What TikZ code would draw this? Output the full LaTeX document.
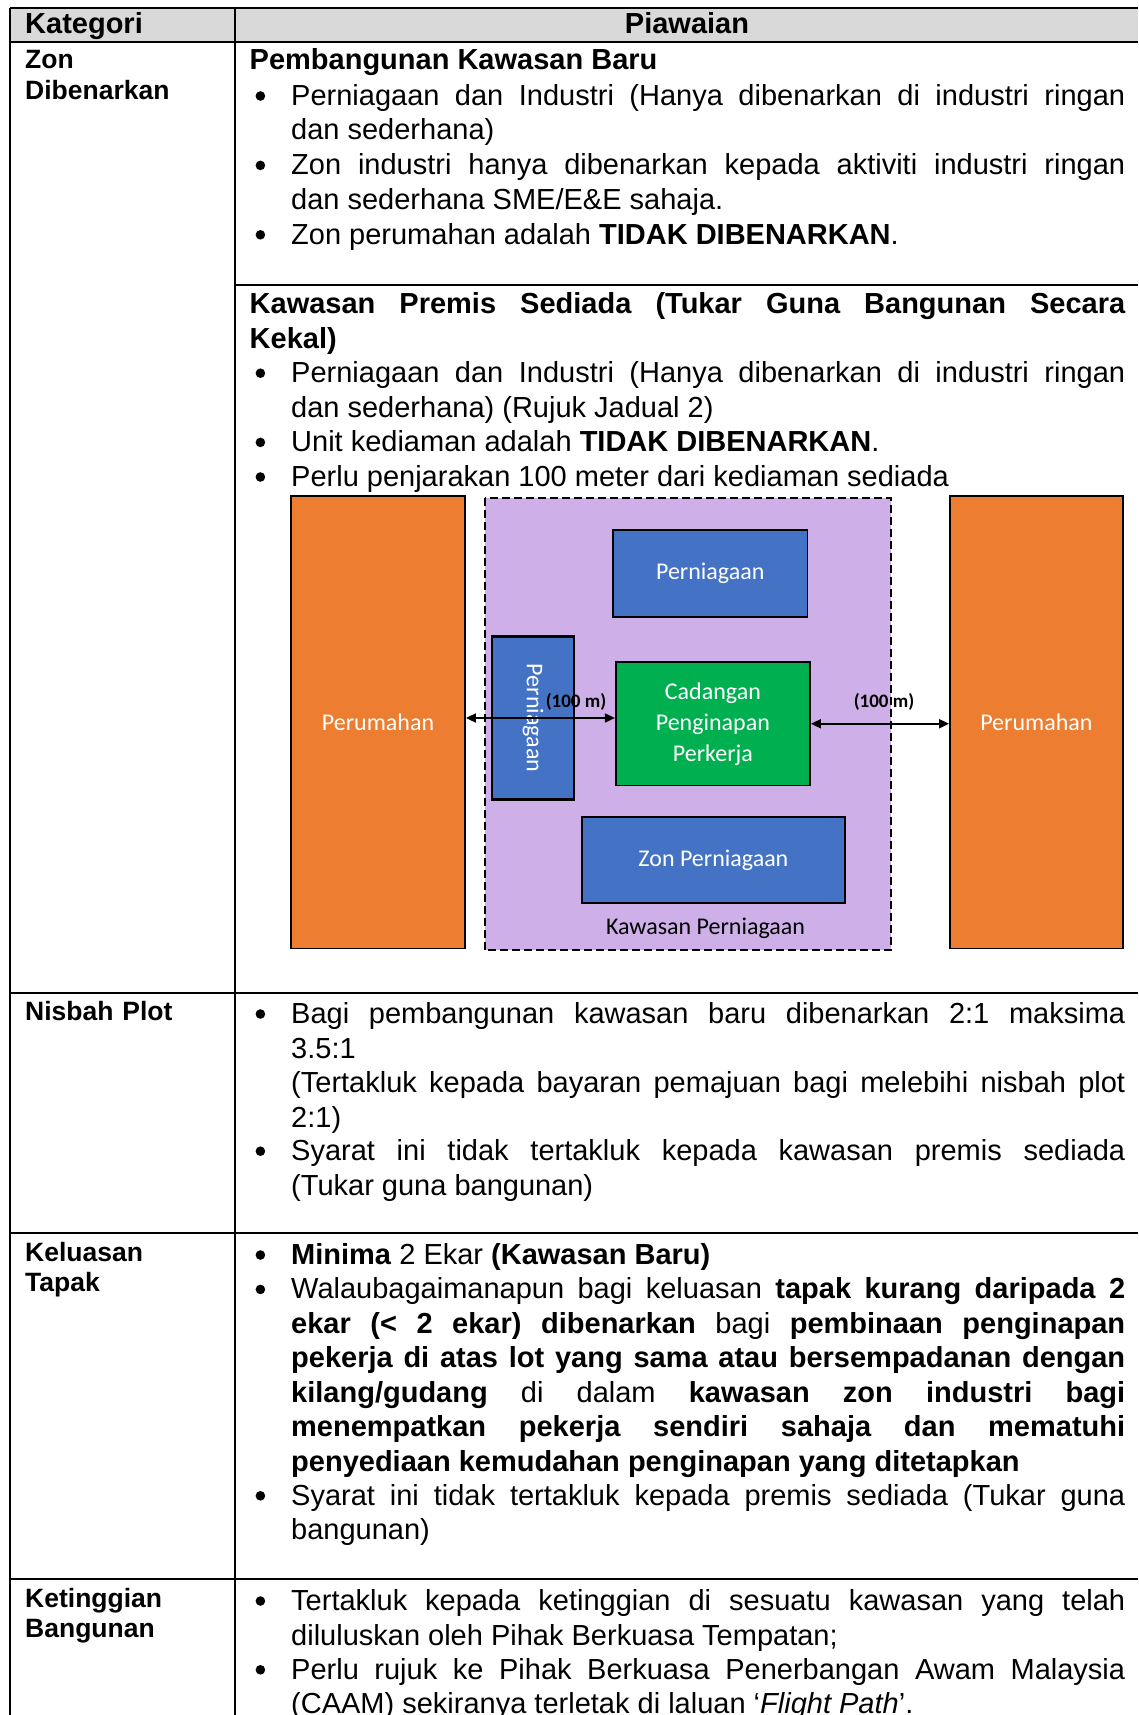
\documentclass[tikz,border=0pt]{standalone}
\usepackage{fontspec}
\setmainfont{Liberation Sans}
\newfontfamily\calfont{Carlito}
\usetikzlibrary{arrows.meta}
\definecolor{orng}{HTML}{ED7D31}
\definecolor{blu}{HTML}{4472C4}
\definecolor{grn}{HTML}{00B050}
\definecolor{kawfill}{HTML}{CFAFE7}
\definecolor{hdrgray}{HTML}{D9D9D9}
\tolerance=10000
\hbadness=10000
\hfuzz=3pt
\hyphenpenalty=10000
\exhyphenpenalty=10000
\begin{document}
\begin{tikzpicture}[x=1pt,y=-1pt,
  grid/.style={line width=1.8pt, black},
  hdr/.style={line width=2.2pt, black},
  cathead/.style={anchor=base west, inner sep=0, font=\bfseries\fontsize{26.5}{30.6}\selectfont, text width=200pt, align=left},
  toptitle/.style={inner sep=0, font=\bfseries\fontsize{29}{34.5}\selectfont},
  para/.style={anchor=base west, inner sep=0, text width=834pt, align=justify, font=\fontsize{29}{34.5}\selectfont},
  hpara/.style={anchor=base west, inner sep=0, text width=875.5pt, align=justify, font=\bfseries\fontsize{29}{34.5}\selectfont},
  zone/.style={draw=black, line width=1.8pt, inner sep=0, font=\calfont\fontsize{24}{31}\selectfont, text=white, align=center},
  kawb/.style={draw=black, line width=2.2pt, dash pattern=on 8pt off 4pt},
  dist/.style={font=\calfont\bfseries\fontsize{19}{22}\selectfont, inner sep=0},
  dimarrow/.style={{Triangle[length=10pt,width=9pt]}-{Triangle[length=10pt,width=9pt]}, line width=1.8pt}
]
\useasboundingbox (0,0) rectangle (1138,1715);
\fill[white] (0,0) rectangle (1138,1715);

% header
\fill[hdrgray] (10,8) rectangle (1138,42);
\node[toptitle, anchor=base west] (kat) at (25,34) {Kategori};
\node[toptitle, anchor=base] (piaw) at (687,34) {Piawaian};

% grid
\draw[hdr] (10,8) -- (1138,8);
\draw[hdr] (10,42) -- (1138,42);
\draw[grid] (10,8) -- (10,1715);
\draw[grid] (235,8) -- (235,1715);
\draw[grid] (235,285) -- (1138,285);
\draw[grid] (10,993) -- (1138,993);
\draw[grid] (10,1233) -- (1138,1233);
\draw[grid] (10,1579) -- (1138,1579);

% left column
\node[cathead] (c1) at (25,68.5) {Zon\\Dibenarkan};
\node[cathead] (c2) at (25,1020.5) {Nisbah Plot};
\node[cathead] (c3) at (25,1261.3) {Keluasan\\Tapak};
\node[cathead] (c4) at (25,1607) {Ketinggian\\Bangunan};

% row 1, part 1
\node[hpara] (h1) at (249.5,70) {Pembangunan Kawasan Baru};
\node[para] (p1) at (291,105.5) {Perniagaan dan Industri (Hanya dibenarkan di industri ringan\linebreak dan sederhana)};
\node[para] (p2) at (291,174.9) {Zon industri hanya dibenarkan kepada aktiviti industri ringan\linebreak dan sederhana SME/E\&E sahaja.};
\node[para] (p3) at (291,244.3) {Zon perumahan adalah \textbf{TIDAK DIBENARKAN}.};

% row 1, part 2
\node[hpara] (h2) at (249.5,313.5) {Kawasan Premis Sediada (Tukar Guna Bangunan Secara\linebreak Kekal)};
\node[para] (p4) at (291,382.7) {Perniagaan dan Industri (Hanya dibenarkan di industri ringan\linebreak dan sederhana) (Rujuk Jadual 2)};
\node[para] (p5) at (291,451.9) {Unit kediaman adalah \textbf{TIDAK DIBENARKAN}.};
\node[para] (p6) at (291,486.5) {Perlu penjarakan 100 meter dari kediaman sediada};

% row 2
\node[para] (p7) at (291,1023.5) {Bagi pembangunan kawasan baru dibenarkan 2:1 maksima\linebreak 3.5:1\newline (Tertakluk kepada bayaran pemajuan bagi melebihi nisbah plot\linebreak 2:1)};
\node[para] (p8) at (291,1160.7) {Syarat ini tidak tertakluk kepada kawasan premis sediada\linebreak (Tukar guna bangunan)};

% row 3
\node[para] (p9) at (291,1264.5) {\textbf{Minima} 2 Ekar \textbf{(Kawasan Baru)}};
\node[para] (p10) at (291,1298.9) {Walaubagaimanapun bagi keluasan \textbf{tapak kurang daripada 2}\linebreak \textbf{ekar (< 2 ekar) dibenarkan} bagi \textbf{pembinaan penginapan}\linebreak \textbf{pekerja di atas lot yang sama atau bersempadanan dengan}\linebreak \textbf{kilang/gudang} di dalam \textbf{kawasan zon industri bagi}\linebreak \textbf{menempatkan pekerja sendiri sahaja dan mematuhi}\linebreak \textbf{penyediaan kemudahan penginapan yang ditetapkan}};
\node[para] (p11) at (291,1505.3) {Syarat ini tidak tertakluk kepada premis sediada (Tukar guna\linebreak bangunan)};

% row 4
\node[para] (p12) at (291,1610.5) {Tertakluk kepada ketinggian di sesuatu kawasan yang telah\linebreak diluluskan oleh Pihak Berkuasa Tempatan;};
\node[para] (p13) at (291,1679.3) {Perlu rujuk ke Pihak Berkuasa Penerbangan Awam Malaysia\linebreak (CAAM) sekiranya terletak di laluan ‘\textit{Flight Path}’.};

% bullets
\foreach \by in {105.5,174.9,244.3,382.7,451.9,486.5,1023.5,1160.7,1264.5,1298.9,1505.3,1610.5,1679.3}
  \fill (260.4,{\by-9.5}) circle (4.8);

% diagram
\node[fill=kawfill, inner sep=0, minimum width=406pt, minimum height=452pt] (kaw) at (688,724) {};
\node[zone, fill=orng, minimum width=174pt, minimum height=452.5pt] (perL) at (378,722.25) {Perumahan};
\node[zone, fill=orng, minimum width=172.7pt, minimum height=452.5pt] (perR) at (1036.35,722.25) {Perumahan};
\node[zone, fill=blu, minimum width=194.5pt, minimum height=86.5pt] (pt) at (710.25,573.5) {Perniagaan};
\node[zone, fill=blu, minimum width=81.3pt, minimum height=162pt] (pv) at (533.1,718) {\rotatebox{-90}{Perniagaan}};
\node[zone, fill=grn, minimum width=194.2pt, minimum height=123.5pt] (cad) at (712.9,723.75) {Cadangan\\Penginapan\\Perkerja};
\node[zone, fill=blu, minimum width=263.2pt, minimum height=86pt] (zon) at (713.4,860) {Zon Perniagaan};
\node[font=\calfont\fontsize{24}{30}\selectfont, inner sep=0] (kawlbl) at (705.5,928) {Kawasan Perniagaan};

\coordinate (aL) at ([yshift=4.25pt]perL.east);
\draw[dimarrow] (aL) -- (aL -| cad.west);
\draw[dimarrow] (cad.east) -- (cad.east -| perR.west);

\node[dist] (dL) at (576,702) {(100 m)};
\node[dist] (dR) at (884,702) {(100 m)};

\draw[line width=1.5pt] (pv.north west) rectangle (pv.south east);
\draw[kawb] (kaw.north west) rectangle (kaw.south east);
\end{tikzpicture}
\end{document}
